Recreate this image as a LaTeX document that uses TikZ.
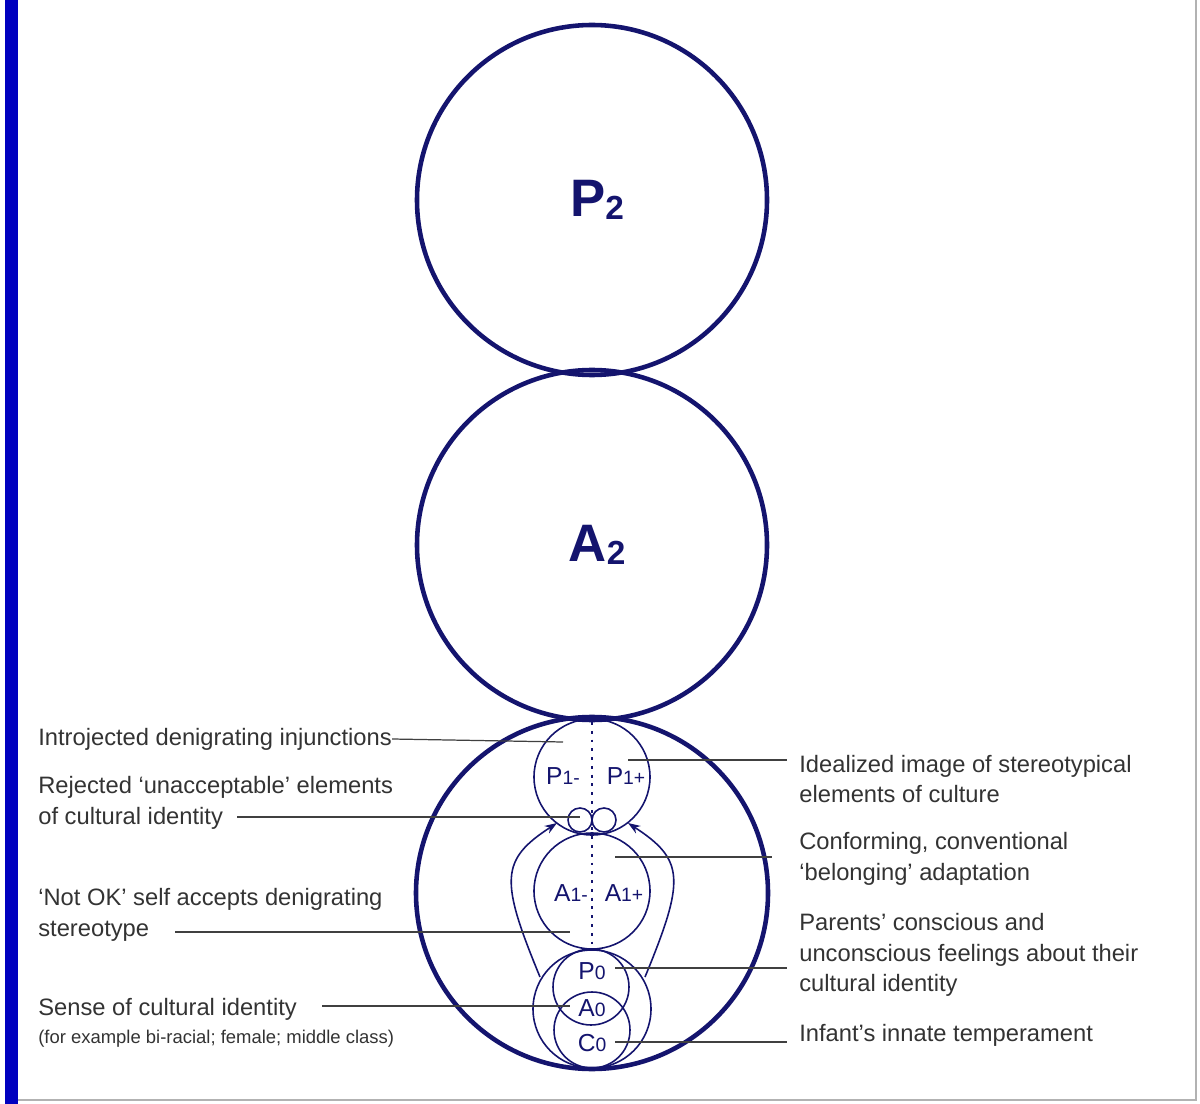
\documentclass[tikz,border=0pt]{standalone}
\usepackage{fontspec}
\setmainfont{Liberation Sans}
\usetikzlibrary{arrows.meta}
\definecolor{navy}{HTML}{14146E}
\definecolor{lbl}{HTML}{333333}
\begin{document}
\begin{tikzpicture}[x=0.02cm,y=-0.02cm,
  big/.style={draw=navy,line width=2.6pt,circle,minimum size=350*0.02cm,inner sep=0},
  sm/.style={draw=navy,line width=0.9pt,circle,inner sep=0},
  lead/.style={draw=black!75,line width=0.7pt},
  txt/.style={text=lbl,font=\fontsize{13.5}{17.5}\selectfont,inner sep=0,align=left},
  ctxt/.style={text=navy,font=\fontsize{14}{16}\selectfont,inner sep=0}]
\useasboundingbox (0,0) rectangle (1200,1104);
\fill[white] (0,0) rectangle (1200,1104);
\fill[blue!75!black] (5,0) rectangle (18,1104);
\draw[gray!60,line width=1.5pt] (1196,0) -- (1196,1100) -- (18,1100);
\node[big] (P2) at (592,200) {};
\node[big] (A2) at (592,545) {};
\node[big,minimum size=352*0.02cm] (B) at (592,893) {};
\node[text=navy,font=\bfseries\fontsize{30}{30}\selectfont] at (597,200) {P\raisebox{-0.05em}{\fontsize{19}{19}\selectfont 2}};
\node[text=navy,font=\bfseries\fontsize{30}{30}\selectfont] at (597,545) {A\raisebox{-0.05em}{\fontsize{19}{19}\selectfont 2}};
% inner circles
\node[sm,minimum size=116*0.02cm] (P1) at (592,777) {};
\node[sm,minimum size=116*0.02cm] (A1) at (592,891) {};
\node[sm,minimum size=24*0.02cm] (r1) at (580,820) {};
\node[sm,minimum size=24*0.02cm] (r2) at (604,820) {};
\node[sm,minimum size=118*0.02cm] (O0) at (592,1009) {};
\node[sm,minimum size=76*0.02cm] (P0) at (591,987) {};
\node[sm,minimum size=76*0.02cm] (C0) at (592,1030) {};
\draw[navy,line width=1.6pt,dash pattern=on 1.6pt off 3.4pt] (592,722) -- (592,945);
\node[ctxt] at (563,776) {P{\fontsize{11}{11}\selectfont 1-}};
\node[ctxt] at (626,776) {P{\fontsize{11}{11}\selectfont 1+}};
\node[ctxt] at (571,893) {A{\fontsize{11}{11}\selectfont 1-}};
\node[ctxt] at (624,893) {A{\fontsize{11}{11}\selectfont 1+}};
\node[ctxt] (p0) at (592,971) {P{\fontsize{11}{11}\selectfont 0}};
\node[ctxt] (a0) at (592,1008) {A{\fontsize{11}{11}\selectfont 0}};
\node[ctxt] (c0) at (592,1043) {C{\fontsize{11}{11}\selectfont 0}};
% arrows
\draw[navy,line width=0.9pt,-{Stealth[length=7pt,width=5pt]}] (540,977) .. controls (500,880) and (500,860) .. (557,823);
\draw[navy,line width=0.9pt,-{Stealth[length=7pt,width=5pt]}] (645,977) .. controls (685,880) and (685,860) .. (628,823);
% left labels
\node[txt,anchor=west] (t1) at (38,739) {Introjected denigrating injunctions};
\node[txt,anchor=west] (t2) at (38,803) {Rejected ‘unacceptable’ elements\\of cultural identity};
\node[txt,anchor=west] (t3) at (38,915) {‘Not OK’ self accepts denigrating\\stereotype};
\node[txt,anchor=west] (t4) at (38,1009) {Sense of cultural identity};
\node[txt,anchor=west,font=\fontsize{10.5}{12}\selectfont] (t4b) at (38,1039) {(for example bi-racial; female; middle class)};
\coordinate (e1) at (563,742);
\coordinate (e2) at (580,817);
\coordinate (e3) at (570,932);
\coordinate (e4) at (570,1006);
\draw[lead] (t1.east) -- (e1);
\draw[lead] (237,817) -- (e2);
\draw[lead] (175,932) -- (e3);
\draw[lead] (322,1006) -- (e4);
% right labels
\node[txt,anchor=west] (u1) at (799,779) {Idealized image of stereotypical\\elements of culture};
\node[txt,anchor=west] (u2) at (799,859) {Conforming, conventional\\‘belonging’ adaptation};
\node[txt,anchor=west] (u3) at (799,955) {Parents’ conscious and\\unconscious feelings about their\\cultural identity};
\node[txt,anchor=west] (u4) at (799,1035) {Infant’s innate temperament};
\coordinate (f1) at (628,760);
\coordinate (f2) at (615,857);
\coordinate (f3) at (615,968);
\coordinate (f4) at (615,1042);
\draw[lead] (f1) -- (787,760);
\draw[lead] (f2) -- (772,857);
\draw[lead] (f3) -- (787,968);
\draw[lead] (f4) -- (787,1042);
\end{tikzpicture}
\end{document}
